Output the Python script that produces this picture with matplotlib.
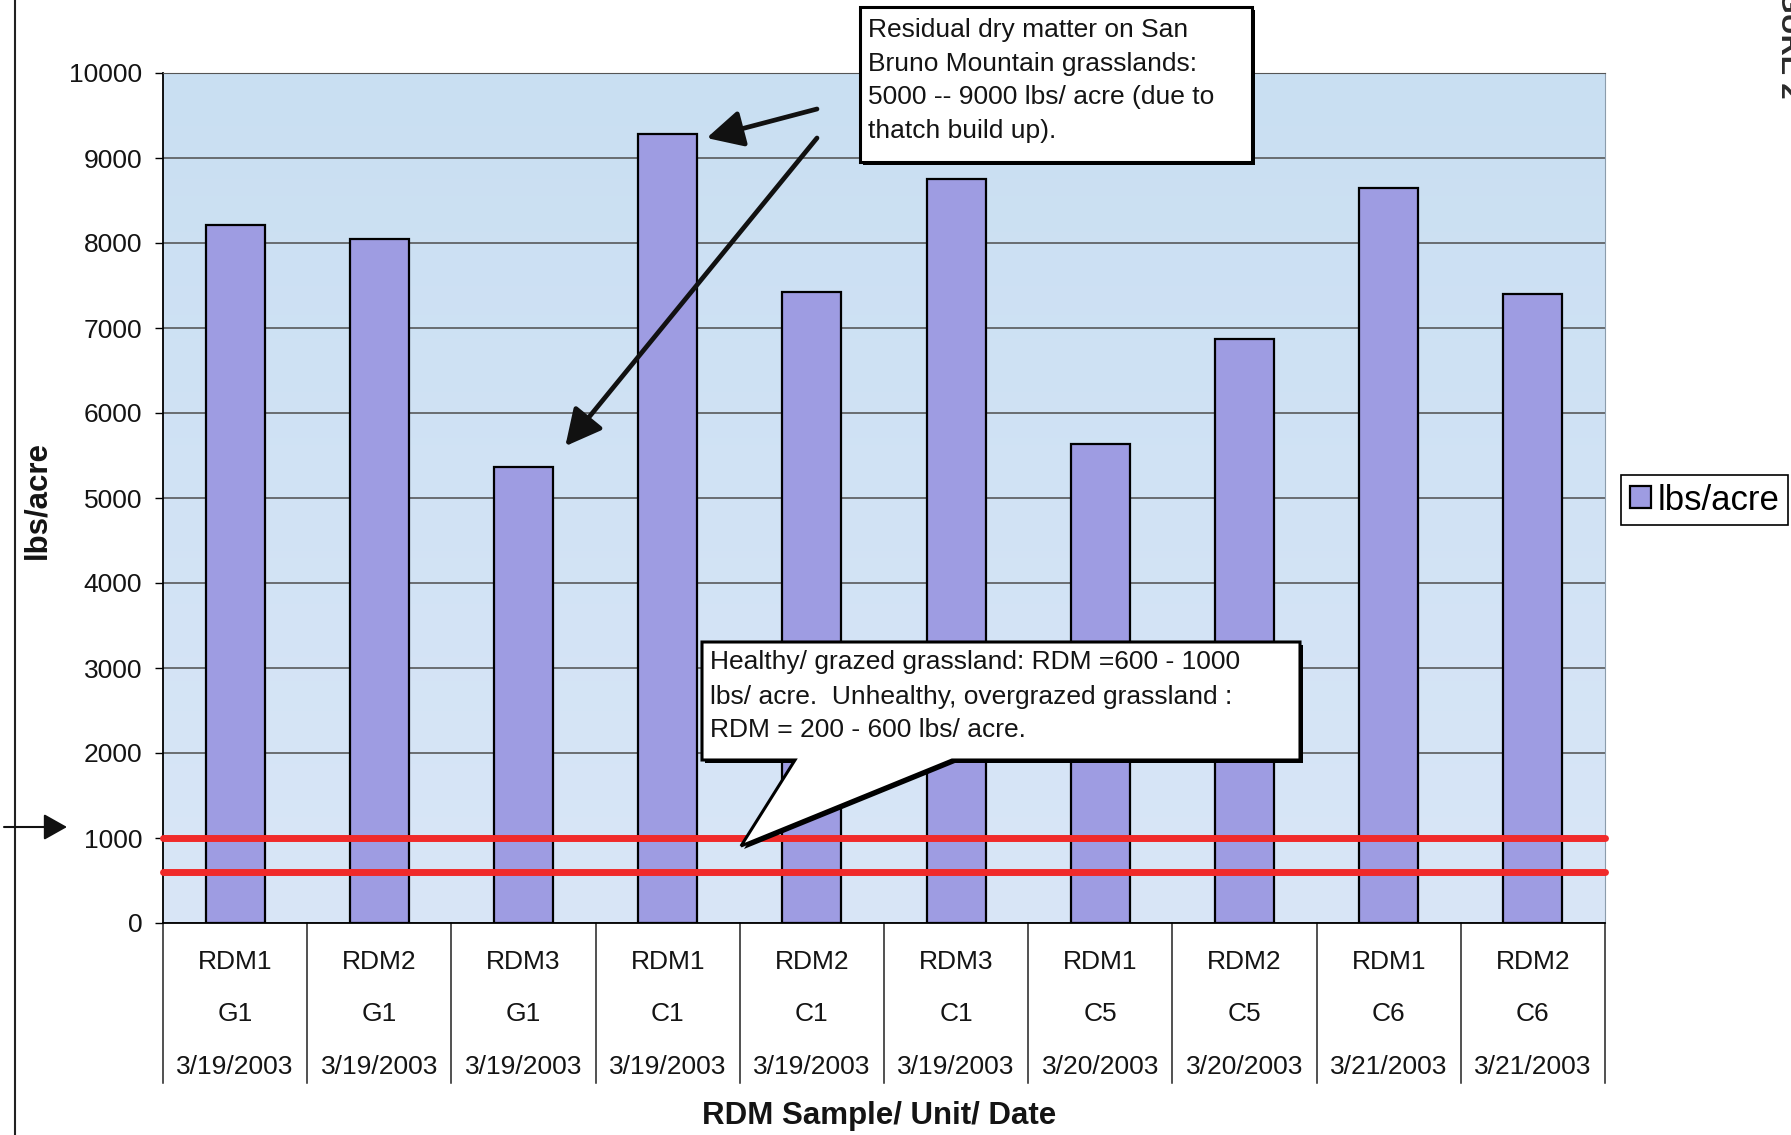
"""Residual dry matter bar chart for San Bruno Mountain RDM samples."""
import numpy as np
import matplotlib
matplotlib.use("Agg")
import matplotlib.pyplot as plt
import matplotlib.transforms as mtransforms
from matplotlib.colors import LinearSegmentedColormap
from matplotlib.patches import Rectangle, Polygon

W, H = 1791, 1135

# samples, units and sample dates (one per bar)
samples = ["RDM1", "RDM2", "RDM3", "RDM1", "RDM2", "RDM3", "RDM1", "RDM2", "RDM1", "RDM2"]
units = ["G1", "G1", "G1", "C1", "C1", "C1", "C5", "C5", "C6", "C6"]
dates = ["3/19/2003", "3/19/2003", "3/19/2003", "3/19/2003", "3/19/2003",
         "3/19/2003", "3/20/2003", "3/20/2003", "3/21/2003", "3/21/2003"]
lbs_per_acre = [8210, 8050, 5370, 9280, 7420, 8750, 5630, 6870, 8650, 7400]

# healthy grazed grassland RDM range (upper, lower)
thresholds = [1000, 600]
y_ticks = [0, 1000, 2000, 3000, 4000, 5000, 6000, 7000, 8000, 9000, 10000]

note_thatch = ["Residual dry matter on San",
               "Bruno Mountain grasslands:",
               "5000 -- 9000 lbs/ acre (due to",
               "thatch build up)."]
note_grazed = ["Healthy/ grazed grassland: RDM =600 - 1000",
               "lbs/ acre.  Unhealthy, overgrazed grassland :",
               "RDM = 200 - 600 lbs/ acre."]

plt.rcParams["font.family"] = ["Liberation Sans", "DejaVu Sans"]
TXT = "#141414"

fig = plt.figure(figsize=(W / 100, H / 100), dpi=100, facecolor="white")
ax = fig.add_axes([163 / W, 1 - 923 / H, 1442 / W, 850 / H])

x = np.arange(len(lbs_per_acre))
x0, x1 = -0.5, len(x) - 0.5

# plot area gradient fill
bg = LinearSegmentedColormap.from_list("plot_bg", ["#d9e6f7", "#c9dff2"])
ax.imshow(np.linspace(0, 1, 256).reshape(-1, 1), cmap=bg, origin="lower",
          extent=(x0, x1, 0, y_ticks[-1]), aspect="auto", zorder=0)

bars = ax.bar(x, lbs_per_acre, width=0.41, color="#9e9ce2", edgecolor="black",
              linewidth=1.6, zorder=2, label="lbs/acre")

for t in thresholds:
    ax.plot([x0, x1], [t, t], color="#f02a2a", lw=5, solid_capstyle="round",
            zorder=3, clip_on=False)

ax.set_xlim(x0, x1)
ax.set_ylim(y_ticks[0], y_ticks[-1])
ax.set_yticks(y_ticks)
ax.set_xticks([])
ax.set_axisbelow(True)
ax.yaxis.grid(True, color="#4d4d4d", lw=1.1)
ax.tick_params(axis="y", direction="out", length=6, width=1, pad=9,
               labelsize=19, labelcolor=TXT)
ax.spines["left"].set_linewidth(1.3)
ax.spines["bottom"].set_linewidth(1.3)
ax.spines["top"].set_color("#555555")
ax.spines["right"].set_color("#8c9cab")

# category table under the axis
trans = mtransforms.blended_transform_factory(ax.transData, ax.transAxes)
for b in np.arange(len(x) + 1) - 0.5:
    ax.plot([b, b], [0, -160 / 850], transform=trans, color="#222222",
            lw=1.1, clip_on=False)
label_rows = [-39 / 850, -91 / 850, -144 / 850]
for i, parts in enumerate(zip(samples, units, dates)):
    for txt, yy in zip(parts, label_rows):
        ax.text(i, yy, txt, transform=trans, ha="center", va="center",
                fontsize=19, color=TXT)

fig.text(879 / W, 1 - 1116 / H, "RDM Sample/ Unit/ Date", ha="center",
         va="center", fontsize=22.5, fontweight="bold", color=TXT)
fig.text(37 / W, 1 - 500 / H, "lbs/acre", ha="center", va="center",
         rotation=90, fontsize=22.5, fontweight="bold", color=TXT)

leg = fig.legend(handles=[bars], loc="center",
                 bbox_to_anchor=(1704.5 / W, 1 - 500 / H), fontsize=25,
                 handlelength=0.6, handleheight=0.6, handletextpad=0.2,
                 borderpad=0.25, borderaxespad=0, fancybox=False,
                 framealpha=1, edgecolor="black")
leg.get_frame().set_linewidth(1.2)

# overlay in page pixels for the notes and margin marks
ov = fig.add_axes([0, 0, 1, 1], zorder=5)
ov.set_xlim(0, W)
ov.set_ylim(H, 0)
ov.axis("off")

# note box at the top
ov.add_patch(Rectangle((863, 10), 392, 155, facecolor="black", edgecolor="none"))
ov.add_patch(Rectangle((860, 7), 392, 155, facecolor="white", edgecolor="black", lw=2.2))
for txt, yy in zip(note_thatch, [30, 64, 97, 131]):
    ov.text(868, yy, txt, ha="left", va="center", fontsize=19, color=TXT)

arrow = dict(arrowstyle="-|>,head_length=0.55,head_width=0.28", color="#111111",
             lw=3.4, mutation_scale=40, shrinkA=0, shrinkB=0)
ax.annotate("", xy=(3.27, 9235), xycoords="data", xytext=(817, 109),
            textcoords=ov.transData, arrowprops=arrow)
ax.annotate("", xy=(2.29, 5610), xycoords="data", xytext=(817, 138),
            textcoords=ov.transData, arrowprops=arrow)

# callout pointing at the healthy range
callout = [(702, 642), (1300, 642), (1300, 760), (952, 760), (741, 846),
           (795, 760), (702, 760)]
ov.add_patch(Polygon([(px + 3, py + 3) for px, py in callout], closed=True,
                     facecolor="black", edgecolor="none"))
ov.add_patch(Polygon(callout, closed=True, facecolor="white", edgecolor="black",
                     lw=2.2, joinstyle="miter"))
for txt, yy in zip(note_grazed, [662, 697, 730]):
    ov.text(710, yy, txt, ha="left", va="center", fontsize=19, color=TXT)

# margin line and pointer at the 1000 level
ov.plot([15, 15], [0, H], color="#222222", lw=1.5)
ov.annotate("", xy=(67, 827), xytext=(4, 827),
            arrowprops=dict(arrowstyle="-|>,head_length=0.48,head_width=0.27",
                            color="#111111", lw=1.5, mutation_scale=30,
                            shrinkA=0, shrinkB=0))
# page label running off the right margin
ov.text(1781, 99, "FIGURE 2", rotation=270, rotation_mode="anchor", ha="right",
        va="baseline", fontsize=21, fontweight="bold", color="#2a2a2a")

fig.savefig("out.png", dpi=100, facecolor="white")
